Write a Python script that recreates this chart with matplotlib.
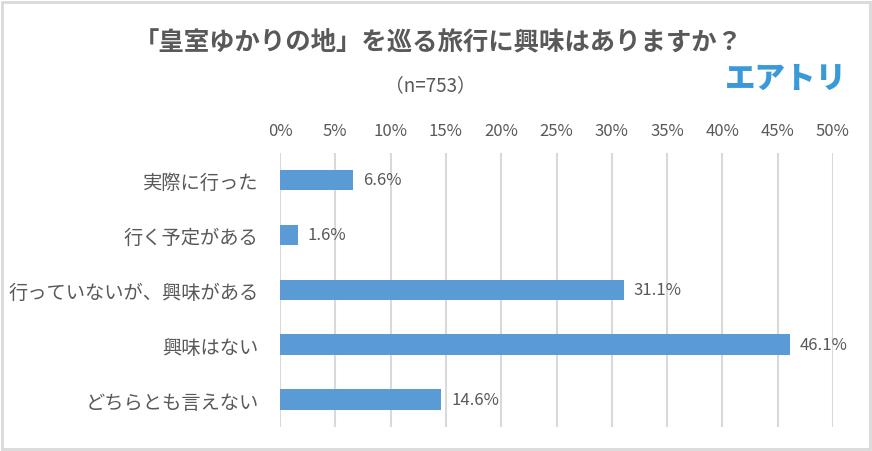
import matplotlib.pyplot as plt
from matplotlib.patches import Rectangle

plt.rcParams['font.family'] = ['Noto Sans CJK JP', 'DejaVu Sans']

categories = ['実際に行った', '行く予定がある', '行っていないが、興味がある', '興味はない', 'どちらとも言えない']
values = [6.6, 1.6, 31.1, 46.1, 14.6]
ticks = [0, 5, 10, 15, 20, 25, 30, 35, 40, 45, 50]
tick_labels = [f'{t}%' for t in ticks]

TEXT = '#595959'
BAR = '#5b9bd5'
GRID = '#d9d9d9'

fig = plt.figure(figsize=(8.72, 4.52), dpi=100)
fig.patch.set_facecolor('white')
ax = fig.add_axes([280 / 872, 1 - 428 / 452, (833 - 280) / 872, (428 - 153.5) / 452])

y = list(range(len(categories)))
ax.barh(y, values, height=0.37, color=BAR, zorder=3)
ax.set_ylim(len(categories) - 0.5, -0.5)
ax.set_xlim(0, 50)

ax.set_xticks(ticks)
ax.set_xticklabels(tick_labels, fontsize=12, color=TEXT)
ax.xaxis.tick_top()
ax.tick_params(axis='x', length=0, pad=10)
ax.set_yticks(y)
ax.set_yticklabels(categories, fontsize=13.9, color=TEXT)
ax.tick_params(axis='y', length=0, pad=15.5)

ax.xaxis.grid(True, color=GRID, linewidth=1.5, zorder=0)
for s in ax.spines.values():
    s.set_visible(False)

for yi, v in zip(y, values):
    ax.text(v + 0.9, yi, f'{v:.1f}%', va='center', ha='left', fontsize=12, color=TEXT)

fig.text(438 / 872, 1 - 43 / 452, '「皇室ゆかりの地」を巡る旅行に興味はありますか？',
         ha='center', va='center', fontsize=18.3, fontweight='bold', color=TEXT)
fig.text(430 / 872, 1 - 86 / 452, '（n=753）', ha='center', va='center', fontsize=13.5, color=TEXT)
fig.text(786 / 872, 1 - 78 / 452, 'エアトリ', ha='center', va='center', fontsize=22,
         fontweight='heavy', color='#3a9ad9')

fig.patches.append(Rectangle((1.5 / 872, 2.5 / 452), 868 / 872, 447 / 452, transform=fig.transFigure,
                             fill=False, edgecolor=GRID, linewidth=2))

fig.savefig('out.png', dpi=100, facecolor='white')
